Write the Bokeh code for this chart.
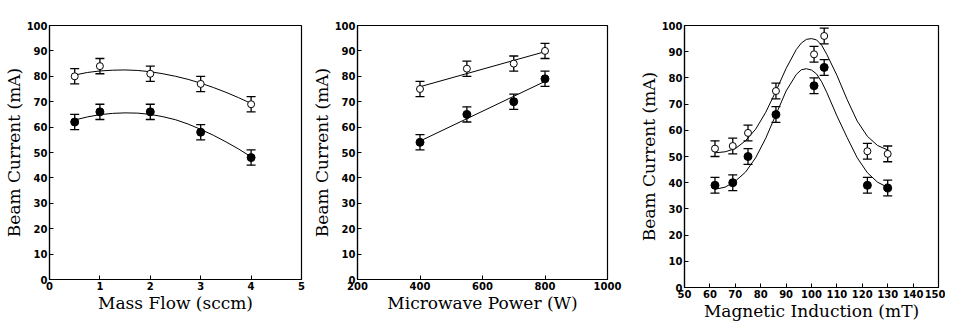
from bokeh.plotting import figure
from bokeh.layouts import row
from bokeh.models import SingleIntervalTicker, Range1d
from bokeh.embed import file_html
from bokeh.resources import INLINE

# ---- Panel 1: Mass flow ----
flow = [0.5, 1, 2, 3, 4]
flow_open = [80, 84, 81, 77, 69]
flow_filled = [62, 66, 66, 58, 48]
flow_fit_x = [0.5, 0.75, 1.0, 1.25, 1.5, 1.75, 2.0, 2.25, 2.5, 2.75, 3.0, 3.25, 3.5, 3.75, 4.0]
flow_fit_open = [80.5, 81.5, 82.1, 82.4, 82.5, 82.3, 81.8, 81.0, 80.0, 78.8, 77.3, 75.6, 73.7, 71.6, 69.3]
flow_fit_filled = [62.8, 64.0, 64.9, 65.4, 65.6, 65.5, 65.0, 64.1, 62.9, 61.2, 59.1, 56.8, 54.2, 51.4, 48.3]

# ---- Panel 2: Microwave power ----
power = [400, 550, 700, 800]
power_open = [75, 83, 85, 90]
power_filled = [54, 65, 70, 79]
power_fit_x = [400, 800]
power_fit_open = [75.9, 89.7]
power_fit_filled = [54.5, 78.0]

# ---- Panel 3: Magnetic induction ----
mag = [62, 69, 75, 86, 101, 105, 122, 130]
mag_open = [53, 54, 59, 75, 89, 96, 52, 51]
mag_filled = [39, 40, 50, 66, 77, 84, 39, 38]
mag_fit_x = [62, 66, 70, 74, 78, 82, 86, 90, 94, 96, 98, 100, 102, 104, 106, 110, 114, 118, 122, 126, 130]
mag_fit_open = [51.4, 51.8, 53.0, 56.0, 60.4, 66.9, 75.0, 83.6, 90.8, 93.3, 94.7, 95.0, 94.5, 92.5, 89.0,
                81.0, 71.8, 63.5, 57.7, 54.2, 52.5]
mag_fit_filled = [37.5, 38.3, 40.6, 44.0, 49.5, 57.0, 66.0, 75.0, 81.3, 83.1, 83.5, 83.0, 81.5, 78.5, 74.5,
                  65.5, 57.3, 49.5, 43.8, 40.2, 38.2]

err = 3  # mA error bar half-height

y_label = "Beam Current (mA)"


def panel(x, yo, yf, fx, fo, ff, xr, xstep, xlabel, width, height, bl, br, bt, bb):
    p = figure(width=width, height=height, output_backend="svg", toolbar_location=None,
               x_range=Range1d(*xr), y_range=Range1d(0, 100),
               min_border_left=bl, min_border_right=br, min_border_top=bt, min_border_bottom=bb)
    p.grid.visible = False
    p.outline_line_color = "black"
    p.outline_line_width = 1.2
    p.background_fill_color = "white"
    p.border_fill_color = "white"
    p.xaxis.ticker = SingleIntervalTicker(interval=xstep)
    p.yaxis.ticker = SingleIntervalTicker(interval=10)
    for ax in (p.xaxis, p.yaxis):
        ax.major_tick_in = 4
        ax.major_tick_out = 0
        ax.minor_tick_in = 0
        ax.minor_tick_out = 0
        ax.axis_line_color = "black"
        ax.axis_line_width = 1.2
        ax.major_tick_line_color = "black"
        ax.major_label_text_font = "DejaVu Sans"
        ax.major_label_text_font_style = "bold"
        ax.major_label_text_font_size = "10px"
        ax.major_label_text_color = "black"
        ax.axis_label_text_font = "DejaVu Serif"
        ax.axis_label_text_font_style = "normal"
        ax.axis_label_text_font_size = "17px"
        ax.axis_label_text_color = "black"
        ax.major_label_standoff = 2
        ax.axis_label_standoff = 0
    p.xaxis.axis_label = xlabel
    p.yaxis.axis_label = y_label

    p.line(fx, fo, line_color="black", line_width=1)
    p.line(fx, ff, line_color="black", line_width=1)

    for ys in (yo, yf):
        lo = [v - err for v in ys]
        hi = [v + err for v in ys]
        p.segment(x0=x, y0=lo, x1=x, y1=hi, line_color="black", line_width=1.3)
        p.scatter(x, lo, marker="dash", size=9, line_color="black", line_width=1.3)
        p.scatter(x, hi, marker="dash", size=9, line_color="black", line_width=1.3)

    p.scatter(x, yo, marker="circle", size=7, fill_color="white", line_color="black", line_width=1)
    p.scatter(x, yf, marker="circle", size=8, fill_color="black", line_color="black", line_width=1)
    return p


p1 = panel(flow, flow_open, flow_filled, flow_fit_x, flow_fit_open, flow_fit_filled,
           (0, 5), 1, "Mass Flow (sccm)", 308, 315, 48, 7, 25, 34)
p2 = panel(power, power_open, power_filled, power_fit_x, power_fit_open, power_fit_filled,
           (200, 1000), 200, "Microwave Power (W)", 327, 315, 43, 28, 25, 34)
p3 = panel(mag, mag_open, mag_filled, mag_fit_x, mag_fit_open, mag_fit_filled,
           (50, 150), 10, "Magnetic Induction (mT)", 310, 323, 43, 7, 24, 27)

layout = row(p1, p2, p3)

open("out.html", "w").write(file_html(layout, INLINE))
